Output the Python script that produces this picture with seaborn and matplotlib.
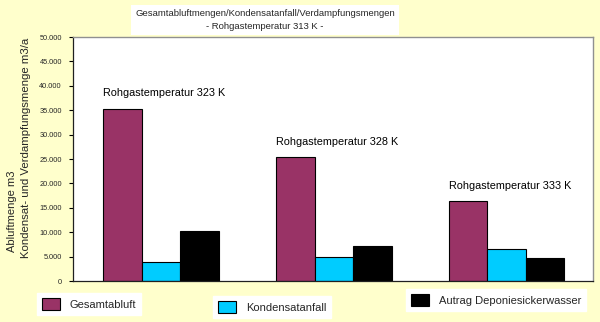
import matplotlib
matplotlib.use("Agg")
import matplotlib.pyplot as plt
import matplotlib.ticker as mticker
from matplotlib import font_manager
import pandas as pd
import seaborn as sns

# Data (m3/a) for each raw gas temperature
temperaturen = ["Rohgastemperatur 323 K", "Rohgastemperatur 328 K", "Rohgastemperatur 333 K"]
gesamtabluft = [35300, 25400, 16300]
kondensatanfall = [3800, 4900, 6500]
autrag_sickerwasser = [10300, 7250, 4650]
serien = ["Gesamtabluft", "Kondensatanfall", "Autrag Deponiesickerwasser"]
farben = ["#993366", "#00CCFF", "#000000"]
y_ticks = [0, 5000, 10000, 15000, 20000, 25000, 30000, 35000, 40000, 45000, 50000]

df = pd.DataFrame({
    "Temperatur": temperaturen * 3,
    "Serie": [serien[0]] * 3 + [serien[1]] * 3 + [serien[2]] * 3,
    "Menge": gesamtabluft + kondensatanfall + autrag_sickerwasser,
})

sns.set_theme(style="white")
plt.rcParams["font.family"] = ["Liberation Sans", "DejaVu Sans"]

# Narrow face for the title if it is installed
installed = {f.name for f in font_manager.fontManager.ttflist}
if "Liberation Sans Narrow" in installed:
    title_font, title_size = ["Liberation Sans Narrow"], 8.0
else:
    title_font, title_size = ["Liberation Sans"], 6.8

bg = "#FFFFCC"
fig = plt.figure(figsize=(6.0, 3.22), dpi=100, facecolor=bg)
ax = fig.add_axes([73 / 600, 1 - 281 / 322, 520 / 600, 244 / 322])
ax.set_facecolor("white")

sns.barplot(data=df, x="Temperatur", y="Menge", hue="Serie", hue_order=serien,
            palette=farben, width=0.67, edgecolor="black", linewidth=0.8,
            saturation=1, ax=ax)

ax.set_xlim(-0.51, 2.5)
ax.set_ylim(0, 50000)
ax.set_yticks(y_ticks)
ax.yaxis.set_major_formatter(mticker.FuncFormatter(
    lambda v, p: f"{int(v):,}".replace(",", ".")))
ax.tick_params(axis="y", direction="out", length=3, width=0.8, color="black",
               labelsize=5.3, pad=5, left=True)
ax.tick_params(axis="x", bottom=False, labelbottom=False)
ax.set_xlabel("")
ax.set_ylabel("")

for side in ["left", "bottom"]:
    ax.spines[side].set_color("#202020")
    ax.spines[side].set_linewidth(0.9)
for side in ["top", "right"]:
    ax.spines[side].set_color("#909090")
    ax.spines[side].set_linewidth(1.0)

# Temperature labels above the first bar of each group
for i, bar in enumerate(ax.containers[0]):
    ax.annotate(temperaturen[i], xy=(bar.get_x(), bar.get_height()),
                xytext=(0, 11), textcoords="offset points",
                ha="left", va="center", fontsize=7.8, color="black")

handles, labels = ax.get_legend_handles_labels()
if ax.get_legend() is not None:
    ax.get_legend().remove()

# Three separate legend boxes along the bottom
positionen = [(37, 293), (213, 296), (406, 289)]
for h, l, (px, py) in zip(handles, labels, positionen):
    leg = fig.legend([h], [l], loc="upper left",
                     bbox_to_anchor=(px / 600, 1 - py / 322),
                     frameon=True, fancybox=False, facecolor="white",
                     edgecolor="white", framealpha=1, fontsize=8,
                     handlelength=1.6, handleheight=1.3, handletextpad=0.9,
                     borderpad=0.45, borderaxespad=0)

# Title in a white box
fig.text(265 / 600, 1 - 20 / 322,
         "Gesamtabluftmengen/Kondensatanfall/Verdampfungsmengen\n- Rohgastemperatur 313 K -",
         ha="center", va="center", fontsize=title_size, family=title_font,
         linespacing=1.5, bbox=dict(facecolor="white", edgecolor="none", pad=3))

# Two-line y axis title
fig.text(12 / 600, 1 - 252 / 322, "Abluftmenge m3", rotation=90,
         ha="center", va="bottom", fontsize=8)
fig.text(26 / 600, 1 - 258 / 322, "Kondensat- und Verdampfungsmenge m3/a",
         rotation=90, ha="center", va="bottom", fontsize=8.2)

fig.savefig("out.png", dpi=100, facecolor=bg)
